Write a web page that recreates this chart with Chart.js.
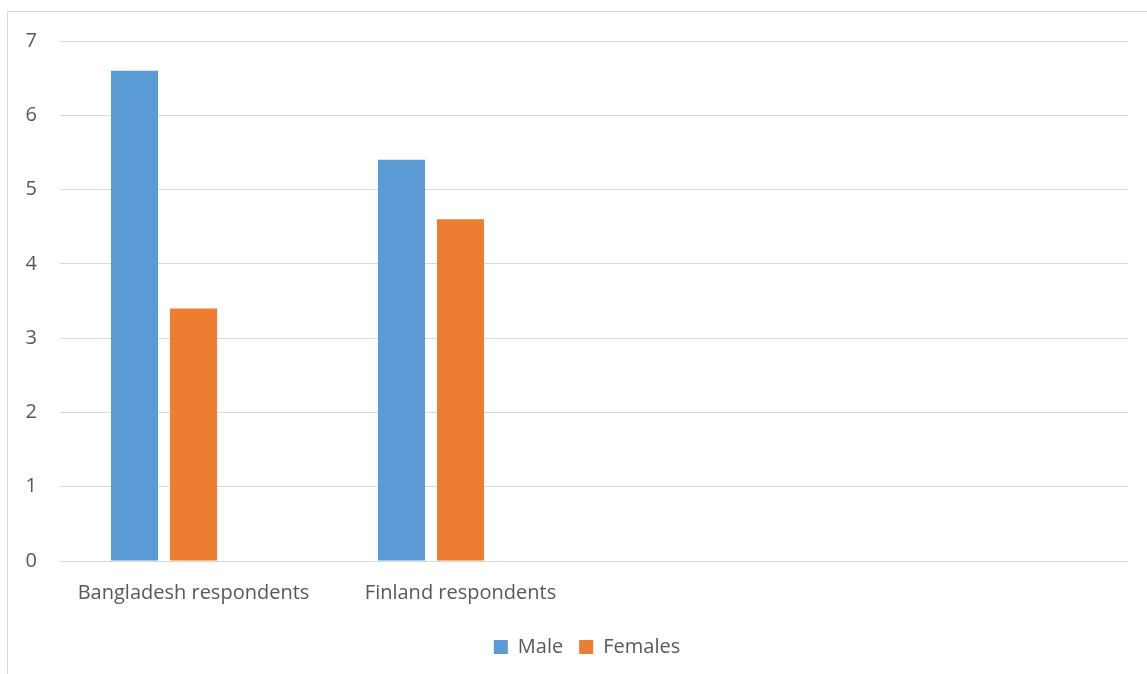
<!DOCTYPE html>
<html>
<head>
<meta charset="utf-8">
<script src="https://cdn.jsdelivr.net/npm/chart.js@4/dist/chart.umd.min.js"></script>
<style>
  html, body { margin: 0; padding: 0; background: #fff; }
  #wrap { width: 1147px; height: 674px; position: relative; }
</style>
</head>
<body>
<div id="wrap"><canvas id="chart"></canvas></div>
<script>
// categories (last two are empty slots in the source sheet)
const categories = ["Bangladesh respondents", "Finland respondents", "", ""];
const maleValues = [6.6, 5.4, null, null];
const femaleValues = [3.4, 4.6, null, null];
const emptyValues = [null, null, null, null];
const seriesNames = ["Male", "Females", ""];

const textColor = "#595959";
const gridColor = "#D9D9D9";
const fontFamily = "'Open Sans', sans-serif";

// outer chart frame like the spreadsheet export
const framePlugin = {
    id: "frame",
    beforeDraw(chart) {
        const ctx = chart.ctx;
        ctx.save();
        ctx.fillStyle = "#fff";
        ctx.fillRect(0, 0, chart.width, chart.height);
        ctx.strokeStyle = gridColor;
        ctx.lineWidth = 1;
        ctx.strokeRect(7.5, 11.5, 1300, 800);
        ctx.restore();
    }
};

// legend in the original sits a bit right of the canvas centre
const legendShift = {
    id: "legendShift",
    afterLayout(chart) {
        if (chart.legend) {
            chart.legend.left += 23;
            chart.legend.right += 23;
        }
    }
};

new Chart(document.getElementById("chart"), {
    type: "bar",
    data: {
        labels: categories,
        datasets: [
            { label: seriesNames[0], data: maleValues, backgroundColor: "#5B9BD5" },
            { label: seriesNames[1], data: femaleValues, backgroundColor: "#ED7D31" },
            { label: seriesNames[2], data: emptyValues, backgroundColor: "#A5A5A5" }
        ]
    },
    options: {
        responsive: true,
        maintainAspectRatio: false,
        animation: false,
        categoryPercentage: 0.663,
        barPercentage: 0.797,
        layout: { padding: { left: 0, right: 19, top: 41, bottom: 7 } },
        plugins: {
            legend: {
                position: "bottom",
                labels: {
                    color: textColor,
                    font: { family: fontFamily, size: 20 },
                    boxWidth: 14,
                    boxHeight: 14,
                    padding: 16,
                    filter: item => item.text !== ""
                }
            },
            tooltip: { enabled: false }
        },
        scales: {
            x: {
                grid: { display: false, drawTicks: false },
                border: { display: false },
                ticks: {
                    color: textColor,
                    font: { family: fontFamily, size: 20 },
                    padding: 20,
                    maxRotation: 0
                },
                afterFit: s => { s.height = 60; }
            },
            y: {
                min: 0,
                max: 7,
                grid: { color: gridColor, lineWidth: 1, drawTicks: false },
                border: { display: false },
                ticks: {
                    stepSize: 1,
                    color: textColor,
                    font: { family: fontFamily, size: 20 },
                    padding: 23
                },
                afterFit: s => { s.width = 60; }
            }
        }
    },
    plugins: [framePlugin, legendShift]
});
</script>
</body>
</html>
